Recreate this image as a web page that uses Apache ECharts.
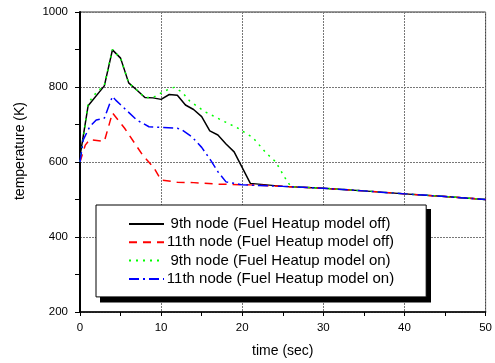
<!DOCTYPE html>
<html><head><meta charset="utf-8">
<script src="https://cdn.jsdelivr.net/npm/echarts@6/dist/echarts.min.js"></script>
<style>html,body{margin:0;padding:0;background:#fff}#c{width:495px;height:363px}</style>
</head><body><div id="c"></div>
<script>
const seriesNames = ['9th node (Fuel Heatup model off)', '11th node (Fuel Heatup model off)', '9th node (Fuel Heatup model on)', '11th node (Fuel Heatup model on)'];
const t9off = [0, 1, 3, 4, 5, 6, 7, 8, 9, 10, 11, 12, 13, 14, 15, 16, 17, 18, 19, 21, 25, 30, 35, 40, 45, 50];
const T9off = [615, 750, 803, 899, 877, 811, 792, 772, 771, 767, 780, 778, 752, 740, 721, 683, 672, 648, 627, 543, 535, 530, 523, 515, 508, 500];
const t11off = [0, 0.65, 1.2, 3, 4, 5.5, 7.7, 9.1, 10, 12, 14, 17, 21, 25, 30, 35, 40, 45, 50];
const T11off = [600, 645, 660, 655, 731, 690, 619, 585, 552, 546, 545, 541, 539, 535, 530, 523, 515, 508, 500];
const t9on = [0, 1, 2, 3, 4, 5, 6, 7, 8, 9, 10, 11, 11.6, 12.6, 13.5, 15.4, 17.4, 19.4, 21.3, 23, 24.1, 25.3, 26, 30, 35, 40, 45, 50];
const T9on = [600, 757, 785, 805, 900, 877, 811, 792, 772, 772, 784, 795, 799, 786, 763, 734, 712, 691, 665, 623, 601, 557, 534, 530, 523, 515, 508, 500];
const t11on = [0, 0.4, 1.2, 2, 3, 4, 4.4, 7, 8.5, 10.3, 12, 12.6, 13.8, 15, 16.1, 17, 18, 20, 25, 30, 35, 40, 45, 50];
const T11on = [600, 659, 694, 712, 717, 775, 765, 712, 694, 692, 690, 685, 667, 639, 605, 574, 547, 539, 535, 530, 523, 515, 508, 500];

function pairs(t, v) { return t.map((x, i) => [x, v[i]]); }
const chart = echarts.init(document.getElementById('c'));
const font = 'Liberation Sans, Arial, sans-serif';
const styles = [
  {color: '#000000', type: 'solid'},
  {color: '#ff0000', type: [8, 6]},
  {color: '#00ff00', type: [2, 5]},
  {color: '#0000ff', type: [10, 4, 2, 4]}
];
const dataSets = [pairs(t9off, T9off), pairs(t11off, T11off), pairs(t9on, T9on), pairs(t11on, T11on)];
chart.setOption({
  animation: false,
  backgroundColor: '#ffffff',
  grid: {left: 80, top: 12, right: 5, bottom: 51, show: true, borderColor: '#333', borderWidth: 1, backgroundColor: 'transparent'},
  xAxis: {
    type: 'value', min: 0, max: 50, interval: 10,
    name: 'time (sec)', nameLocation: 'middle', nameGap: 32,
    nameTextStyle: {fontFamily: font, fontSize: 14, color: '#000'},
    axisLine: {lineStyle: {color: '#000', width: 1.5}},
    axisTick: {show: true, length: 4, lineStyle: {color: '#000'}},
    minorTick: {show: true, splitNumber: 2, length: 4, lineStyle: {color: '#000'}},
    axisLabel: {fontFamily: font, fontSize: 11.5, color: '#000', margin: 10, formatter: v => String(v)},
    splitLine: {show: true, lineStyle: {color: '#777', type: [2, 1], width: 1}}
  },
  yAxis: {
    type: 'value', min: 200, max: 1000, interval: 200,
    name: 'temperature (K)', nameLocation: 'middle', nameGap: 53,
    nameTextStyle: {fontFamily: font, fontSize: 14, color: '#000', padding: [0, 0, 0, 22]},
    axisLine: {show: true, lineStyle: {color: '#000', width: 2}},
    axisTick: {show: true, length: 5, lineStyle: {color: '#000'}},
    minorTick: {show: true, splitNumber: 2, length: 5, lineStyle: {color: '#000'}},
    axisLabel: {fontFamily: font, fontSize: 11.5, color: '#000', margin: 12, formatter: v => String(v)},
    splitLine: {show: true, lineStyle: {color: '#777', type: [2, 1], width: 1}}
  },
  graphic: [{
    type: 'rect', z: 20, silent: true,
    shape: {x: 100, y: 209, width: 331, height: 93.5},
    style: {fill: '#000'}
  }],
  legend: {
    orient: 'vertical', left: 96, top: 205, z: 30,
    padding: [10, 32, 9, 32],
    itemWidth: 35, itemHeight: 18, itemGap: 0.3,
    itemStyle: {opacity: 0},
    backgroundColor: '#fff', borderColor: '#000', borderWidth: 1,
    data: seriesNames,
    formatter: n => '{a|' + n + '}',
    textStyle: {fontFamily: font, fontSize: 15, color: '#000', rich: {a: {width: 223, height: 18, lineHeight: 18, align: 'center', fontFamily: font, fontSize: 15, color: '#000'}}}
  },
  series: seriesNames.map((n, i) => ({
    name: n, type: 'line', data: dataSets[i], symbol: 'none', showSymbol: false,
    lineStyle: {color: styles[i].color, type: styles[i].type, width: 1.5},
    itemStyle: {color: styles[i].color},
    z: 2 + i
  }))
});
</script></body></html>
